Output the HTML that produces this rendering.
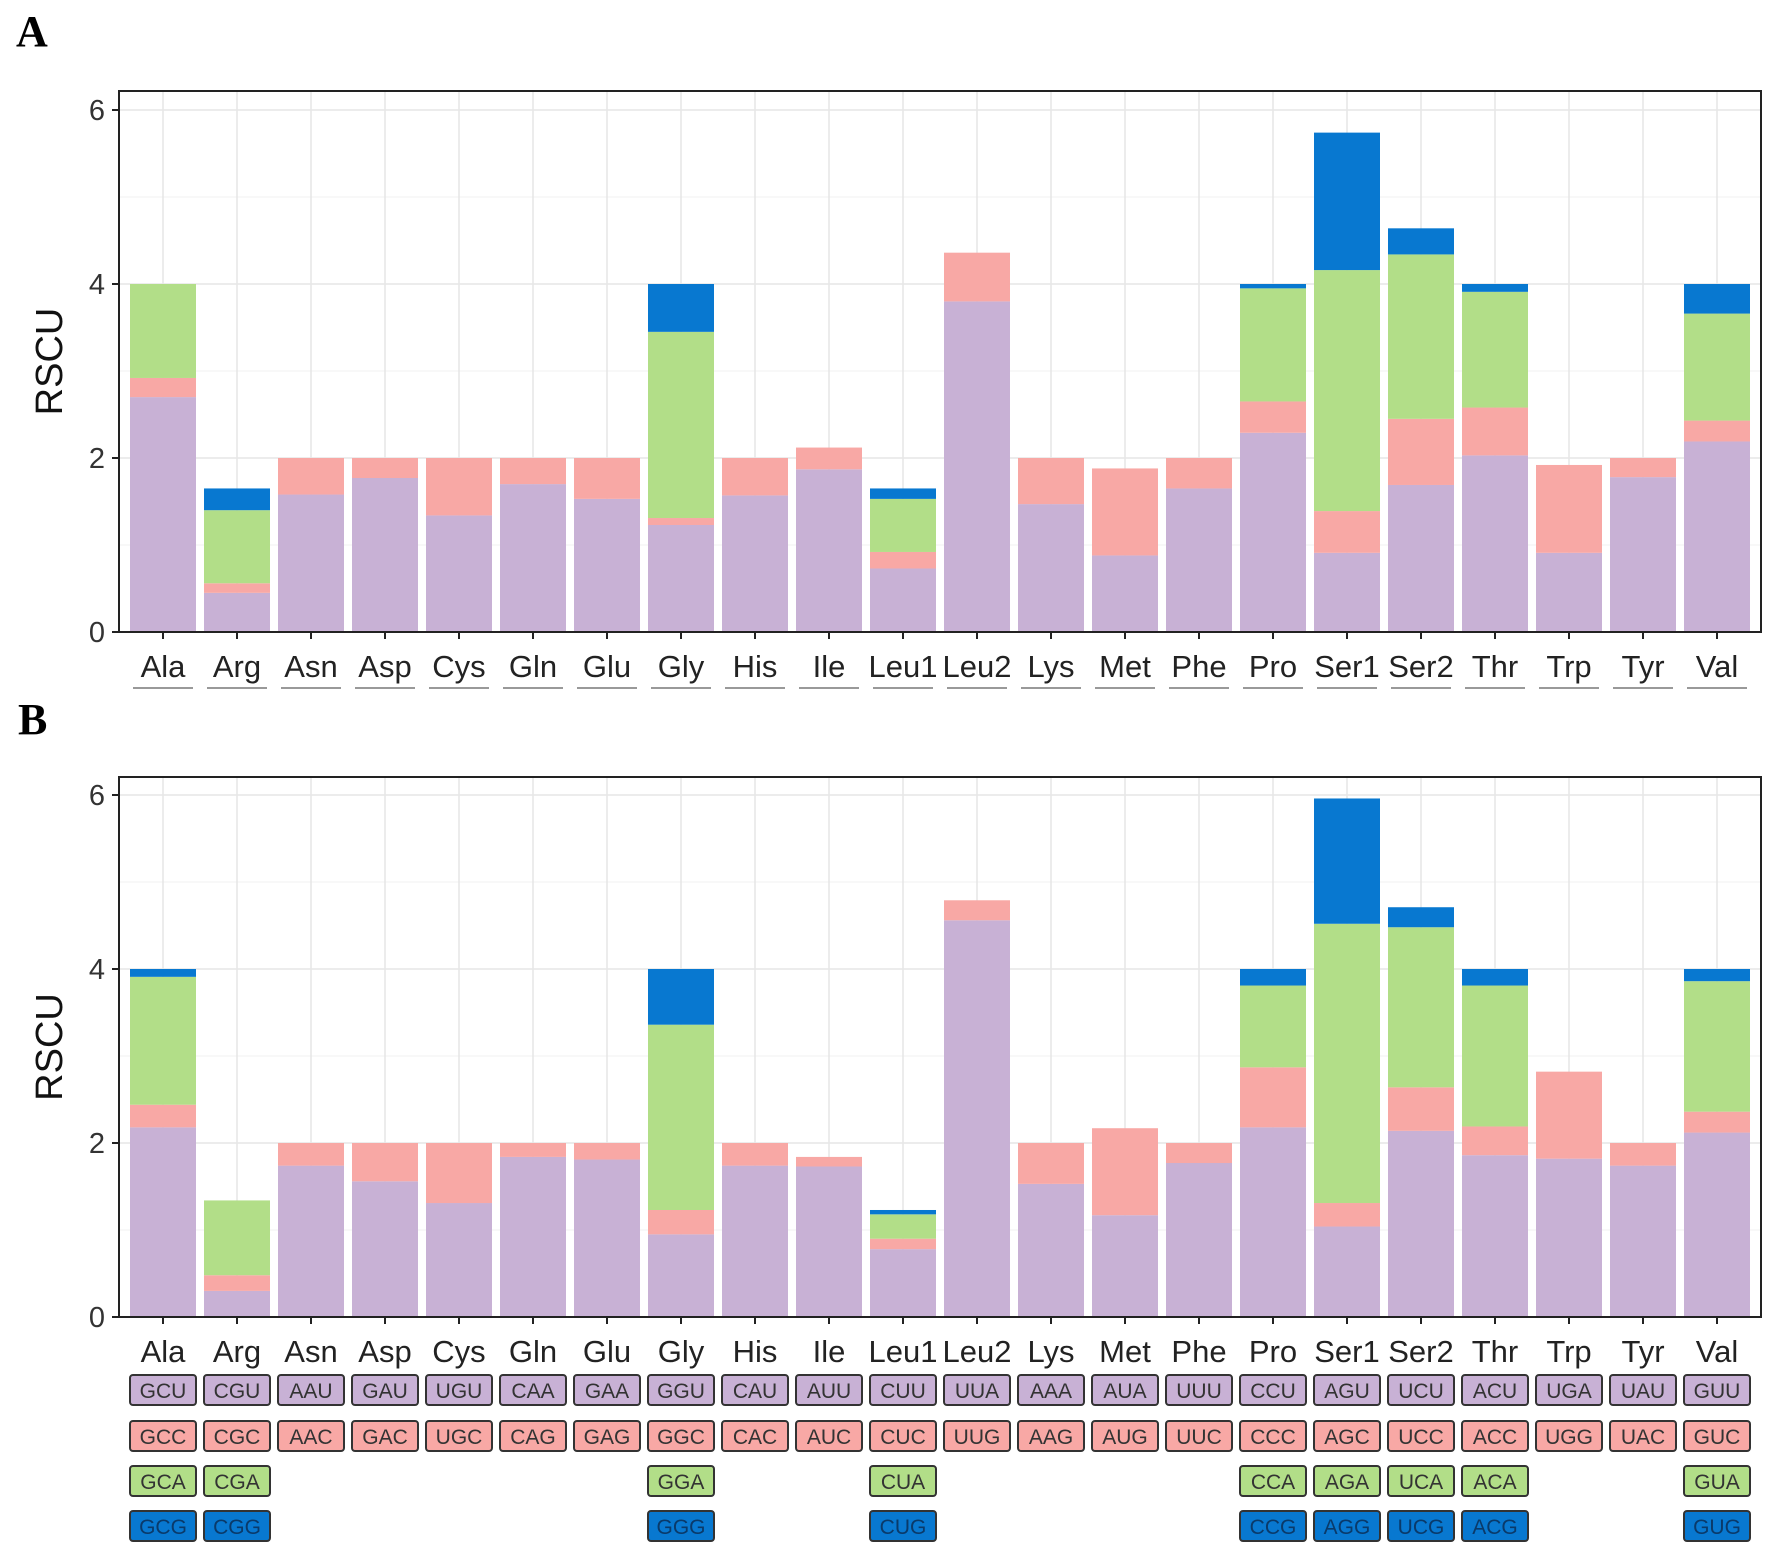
<!DOCTYPE html>
<html><head><meta charset="utf-8"><style>
html,body{margin:0;padding:0;background:#fff}
svg{display:block}
</style></head><body>
<svg id="s" width="1772" height="1561" xmlns="http://www.w3.org/2000/svg" font-family="Liberation Sans, sans-serif"></svg>
<script>
const names=["Ala","Arg","Asn","Asp","Cys","Gln","Glu","Gly","His","Ile","Leu1","Leu2","Lys","Met","Phe","Pro","Ser1","Ser2","Thr","Trp","Tyr","Val"];
const A=[[2.7,2.92,4,4],[0.45,0.56,1.4,1.65],[1.58,2],[1.77,2],[1.34,2],[1.7,2],[1.53,2],[1.23,1.31,3.45,4],[1.57,2],[1.87,2.12],[0.73,0.92,1.53,1.65],[3.8,4.36],[1.47,2],[0.88,1.88],[1.65,2],[2.29,2.65,3.95,4],[0.91,1.39,4.16,5.74],[1.69,2.45,4.34,4.64],[2.03,2.58,3.91,4],[0.91,1.92],[1.78,2],[2.19,2.43,3.66,4]];
const B=[[2.18,2.44,3.91,4],[0.3,0.48,1.34],[1.74,2],[1.56,2],[1.31,2],[1.84,2],[1.81,2],[0.95,1.23,3.36,4],[1.74,2],[1.73,1.84],[0.78,0.9,1.18,1.23],[4.56,4.79],[1.53,2],[1.17,2.17],[1.77,2],[2.18,2.87,3.81,4],[1.04,1.31,4.52,5.96],[2.14,2.64,4.48,4.71],[1.86,2.19,3.81,4],[1.82,2.82],[1.74,2],[2.12,2.36,3.86,4]];
const cols=["#c8b1d5","#f8a8a5","#b2de88","#0878d0"];
const L=119,R=1761,cx0=163,dx=74,bw=66,U=87;
let h='';
function panel(top,zero,data,letter,ly,showTicks){
  h+=`<text x="${letter[1]}" y="${ly}" font-family="Liberation Serif, serif" font-weight="bold" font-size="44">${letter[0]}</text>`;
  // grid
  for(let v=1;v<=6;v++){let y=zero-v*U;h+=`<line x1="${L}" x2="${R}" y1="${y}" y2="${y}" stroke="${v%2?'#f2f2f2':'#e6e6e6'}" stroke-width="${v%2?1:1.5}"/>`;}
  for(let i=0;i<22;i++){let x=cx0+i*dx;h+=`<line x1="${x}" x2="${x}" y1="${top}" y2="${zero}" stroke="#e6e6e6" stroke-width="1.5"/>`;}
  data.forEach((d,i)=>{let x=cx0+i*dx-bw/2,prev=0;d.forEach((v,k)=>{h+=`<rect x="${x}" y="${zero-v*U}" width="${bw}" height="${(v-prev)*U}" fill="${cols[k]}"/>`;prev=v;});});
  h+=`<rect x="${L}" y="${top}" width="${R-L}" height="${zero-top}" fill="none" stroke="#222" stroke-width="2"/>`;
  for(let v=0;v<=6;v+=2){let y=zero-v*U;h+=`<line x1="${L-7}" x2="${L}" y1="${y}" y2="${y}" stroke="#222" stroke-width="2"/><text x="${L-14}" y="${y+10}" font-size="29" fill="#333" text-anchor="end">${v}</text>`;}
  for(let i=0;i<22;i++){let x=cx0+i*dx;h+=`<line x1="${x}" x2="${x}" y1="${zero}" y2="${zero+7}" stroke="#222" stroke-width="2"/><text x="${x}" y="${zero+45}" font-size="31" fill="#222" text-anchor="middle">${names[i]}</text>`;
   if(showTicks)h+=`<line x1="${x-30}" x2="${x+30}" y1="${zero+56}" y2="${zero+56}" stroke="#999" stroke-width="2"/>`;}
  h+=`<text transform="translate(62,${(top+zero)/2}) rotate(-90)" font-size="38" fill="#111" text-anchor="middle">RSCU</text>`;
}
panel(91,632,A,["A",16],46,true);
panel(777,1317,B,["B",18],734,false);
const rows=[
"GCU CGU AAU GAU UGU CAA GAA GGU CAU AUU CUU UUA AAA AUA UUU CCU AGU UCU ACU UGA UAU GUU".split(" "),
"GCC CGC AAC GAC UGC CAG GAG GGC CAC AUC CUC UUG AAG AUG UUC CCC AGC UCC ACC UGG UAC GUC".split(" "),
{0:"GCA",1:"CGA",7:"GGA",10:"CUA",15:"CCA",16:"AGA",17:"UCA",18:"ACA",21:"GUA"},
{0:"GCG",1:"CGG",7:"GGG",10:"CUG",15:"CCG",16:"AGG",17:"UCG",18:"ACG",21:"GUG"}];
const ry=[1390,1436,1481,1526];
rows.forEach((r,k)=>{for(let i=0;i<22;i++){const t=r[i];if(!t)continue;let x=cx0+i*dx;
 h+=`<rect x="${x-33}" y="${ry[k]-15}" width="66" height="30" rx="3" fill="${cols[k]}" stroke="#333" stroke-width="2"/><text x="${x}" y="${ry[k]+8}" font-size="21" fill="${k==3?'#0a3a6a':'#333'}" text-anchor="middle">${t}</text>`;}});
document.getElementById('s').innerHTML=h;
</script>
</body></html>
